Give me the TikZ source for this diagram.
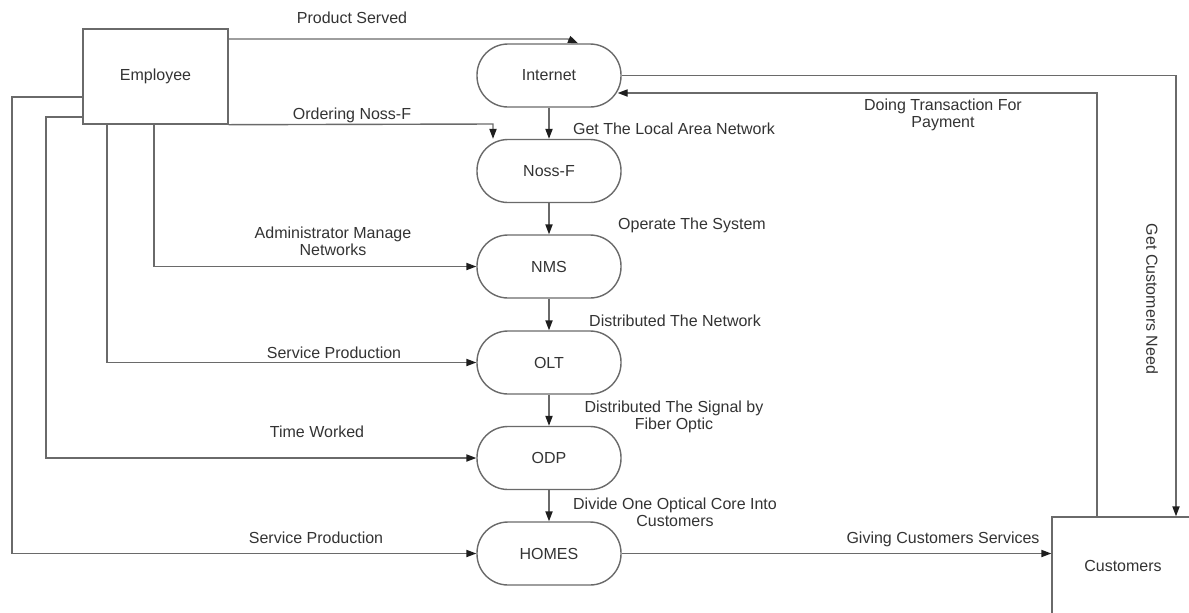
\documentclass[tikz,border=0pt]{standalone}
\usepackage{fontspec}
\setmainfont{Liberation Sans}
\usetikzlibrary{arrows.meta,calc}
\definecolor{linec}{HTML}{6A6A6A}
\definecolor{tipc}{HTML}{1E1E1E}
\definecolor{txtc}{HTML}{333333}
\tikzset{
  proc/.style={draw=linec, line width=0.7pt, rectangle, rounded corners=15.5pt,
    minimum width=72pt, minimum height=31.5pt, inner sep=0pt,
    font=\fontsize{8}{8.5}\selectfont, text=txtc},
  entity/.style={draw=linec, line width=0.7pt, rectangle, inner sep=0pt,
    font=\fontsize{8}{8.5}\selectfont, text=txtc},
  flow/.style={draw=linec, line width=0.7pt,
    -{Triangle[length=5pt,width=3.6pt,color=tipc]}},
  lbl/.style={font=\fontsize{8}{8.5}\selectfont, text=txtc, align=center, inner sep=0pt}
}
\begin{document}
\begin{tikzpicture}[x=0.5pt,y=-0.5pt]
\useasboundingbox (0,0) rectangle (1189,612);

% external entities (the customer box runs past the page edge)
\node[entity, minimum width=72.5pt, minimum height=47.5pt] (emp) at (155.5,76.5) {Employee};
\node[entity, minimum width=80pt, minimum height=52pt] (cust) at (1132,569)
  {\raisebox{3pt}{Customers}\hspace*{9pt}};

% process chain
\node[proc] (inet)  at (549,75.5)  {Internet};
\node[proc] (nossf) at (549,171)   {Noss-F};
\node[proc] (nms)   at (549,266.5) {NMS};
\node[proc] (olt)   at (549,362.5) {OLT};
\node[proc] (odp)   at (549,458)   {ODP};
\node[proc] (homes) at (549,553.5) {HOMES};

% bend points
\coordinate (ps) at (578,39);
\coordinate (on) at (493,124);
\coordinate (am) at (154,0);
\coordinate (sp) at (107,0);
\coordinate (tw) at (46,117);
\coordinate (sq) at (12,97);
\coordinate (gn) at (1176,0);
\coordinate (dt) at (1097,93);

% employee flows
\draw[flow] (emp.east |- ps) -- ($(ps)+(-10,0)$) -- (inet.north -| ps);
\draw[flow] (emp.south east) -- (on) -- (nossf.north -| on);
\draw[flow] (emp.south -| am) |- (nms.west);
\draw[flow] (emp.south -| sp) |- (olt.west);
\draw[flow] (emp.west |- tw) -- (tw) |- (odp.west);
\draw[flow] (emp.west |- sq) -- (sq) |- (homes.west);

% main chain
\draw[flow] (inet.south) -- (nossf.north);
\draw[flow] (nossf.south) -- (nms.north);
\draw[flow] (nms.south) -- (olt.north);
\draw[flow] (olt.south) -- (odp.north);
\draw[flow] (odp.south) -- (homes.north);

% customer flows
\draw[flow] (homes.east) -- (cust.west |- homes.east);
\draw[flow] (inet.east) -| (gn |- cust.north);
\draw[flow] (dt |- cust.north) -- (dt) -- ($(inet.east |- dt)+(-4,0)$);

% labels
\node[lbl] at (352,18)    {Product Served};
\node[lbl] at (352,115)   {Ordering Noss-F};
\node[lbl] at (674,129)   {Get The Local Area Network};
\node[lbl] at (692,225)   {Operate The System};
\node[lbl] at (333,241.5) {Administrator Manage\\Networks};
\node[lbl] at (675,321)   {Distributed The Network};
\node[lbl] at (334,353)   {Service Production};
\node[lbl] at (674,416.5) {Distributed The Signal by\\Fiber Optic};
\node[lbl] at (317,432)   {Time Worked};
\node[lbl] at (675,512.5) {Divide One Optical Core Into\\Customers};
\node[lbl] at (316,538)   {Service Production};
\node[lbl] at (943,539)   {Giving Customers Services};
\node[lbl] at (943,114.5) {Doing Transaction For\\Payment};
\node[lbl, rotate=-90] at (1152,299) {Get Customers Need};
\end{tikzpicture}
\end{document}
